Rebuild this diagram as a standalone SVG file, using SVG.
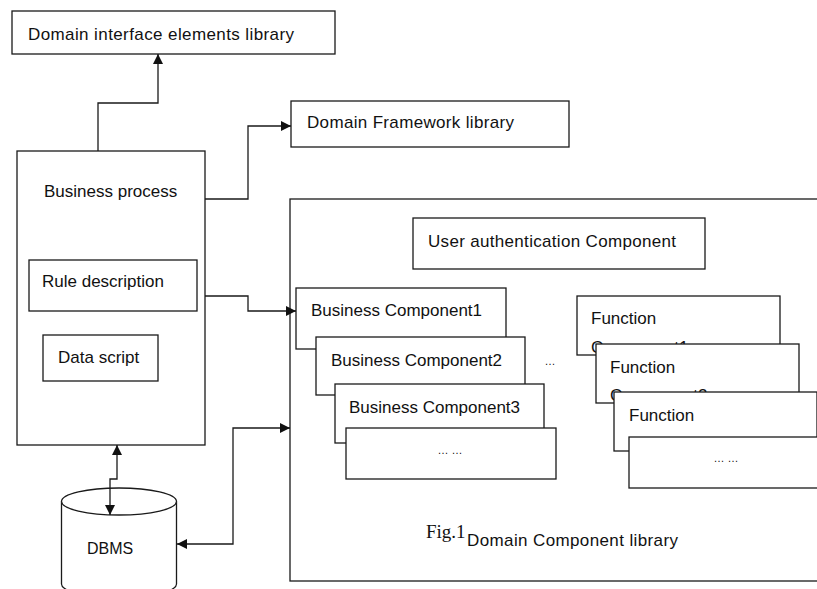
<svg xmlns="http://www.w3.org/2000/svg" width="817" height="589" viewBox="0 0 817 589">
<defs>
<style>
.box{fill:#fff;stroke:#1a1a1a;stroke-width:1.3}
.t{font-family:"Liberation Sans",Arial,sans-serif;font-size:17px;fill:#111}
.d{font-family:"Liberation Sans",Arial,sans-serif;font-size:11px;fill:#111;text-anchor:middle}
.cap{font-family:"Liberation Serif","Times New Roman",serif;font-size:19px;fill:#111}
.c{fill:none;stroke:#1a1a1a;stroke-width:1.3}
</style>
<marker id="ah" markerUnits="userSpaceOnUse" markerWidth="10" markerHeight="10" refX="10" refY="5" orient="auto-start-reverse">
<path d="M0,0 L10,5 L0,10 z" fill="#111"/>
</marker>
</defs>
<rect width="817" height="589" fill="#fff"/>

<g id="domain-interface-elements-library">
<rect class="box" x="12" y="11" width="323" height="43"/>
<text class="t" x="28" y="40" textLength="266" lengthAdjust="spacing">Domain interface elements library</text>
</g>

<g id="domain-framework-library">
<rect class="box" x="291" y="101" width="278" height="46"/>
<text class="t" x="307" y="128" textLength="207" lengthAdjust="spacing">Domain Framework library</text>
</g>

<g id="business-process">
<rect class="box" x="17" y="151" width="188" height="294"/>
<text class="t" x="44" y="197">Business process</text>
<g id="rule-description">
<rect class="box" x="29" y="260" width="168" height="51"/>
<text class="t" x="42" y="287">Rule description</text>
</g>
<g id="data-script">
<rect class="box" x="43" y="335" width="115" height="46"/>
<text class="t" x="58" y="363">Data script</text>
</g>
</g>

<g id="dbms">
<path class="box" d="M61.5,501.5 L61.5,584 A57.5,13.5 0 0 0 176.5,584 L176.5,501.5"/>
<ellipse class="box" cx="119" cy="501.5" rx="57.5" ry="13.5"/>
<text class="t" x="87" y="554" style="font-size:16px">DBMS</text>
</g>

<g id="domain-component-library">
<rect class="box" x="290" y="199" width="545" height="382"/>
<text class="cap" x="426" y="538">Fig.1</text>
<text class="t" x="467" y="546" textLength="211" lengthAdjust="spacing">Domain Component library</text>

<g id="user-authentication-component">
<rect class="box" x="413" y="218" width="292" height="51"/>
<text class="t" x="428" y="247" textLength="248" lengthAdjust="spacing">User authentication Component</text>
</g>

<g id="business-component1">
<rect class="box" x="296" y="288" width="210" height="61"/>
<text class="t" x="311" y="316">Business Component1</text>
</g>
<g id="business-component2">
<rect class="box" x="316" y="337" width="209" height="58"/>
<text class="t" x="331" y="366">Business Component2</text>
</g>
<g id="business-component3">
<rect class="box" x="335" y="384" width="209" height="59"/>
<text class="t" x="349" y="413">Business Component3</text>
</g>
<g id="business-component-more">
<rect class="box" x="346" y="428" width="210" height="51"/>
<text class="d" x="450" y="454">… …</text>
</g>

<text class="d" x="550" y="365">…</text>

<g id="function-component1">
<rect class="box" x="577" y="296" width="203" height="59"/>
<text class="t" x="591" y="324">Function</text>
<text class="t" x="591" y="353">Component1</text>
</g>
<g id="function-component2">
<rect class="box" x="596" y="344" width="203" height="59"/>
<text class="t" x="610" y="373">Function</text>
<text class="t" x="610" y="401">Component2</text>
</g>
<g id="function-component3">
<rect class="box" x="614" y="392" width="203" height="59"/>
<text class="t" x="629" y="421">Function</text>
</g>
<g id="function-component-more">
<rect class="box" x="629" y="437" width="200" height="51"/>
<text class="d" x="726" y="462">… …</text>
</g>
</g>

<g id="connectors">
<polyline class="c" points="98,151 98,103 158,103 158,54" marker-end="url(#ah)"/>
<polyline class="c" points="205,199 248,199 248,126 291,126" marker-end="url(#ah)"/>
<polyline class="c" points="205,296 248,296 248,311 296,311" marker-end="url(#ah)"/>
<polyline class="c" points="117,445 117,479 110,479 110,515" marker-start="url(#ah)" marker-end="url(#ah)"/>
<polyline class="c" points="177,544 233,544 233,428 290,428" marker-start="url(#ah)" marker-end="url(#ah)"/>
</g>
</svg>
